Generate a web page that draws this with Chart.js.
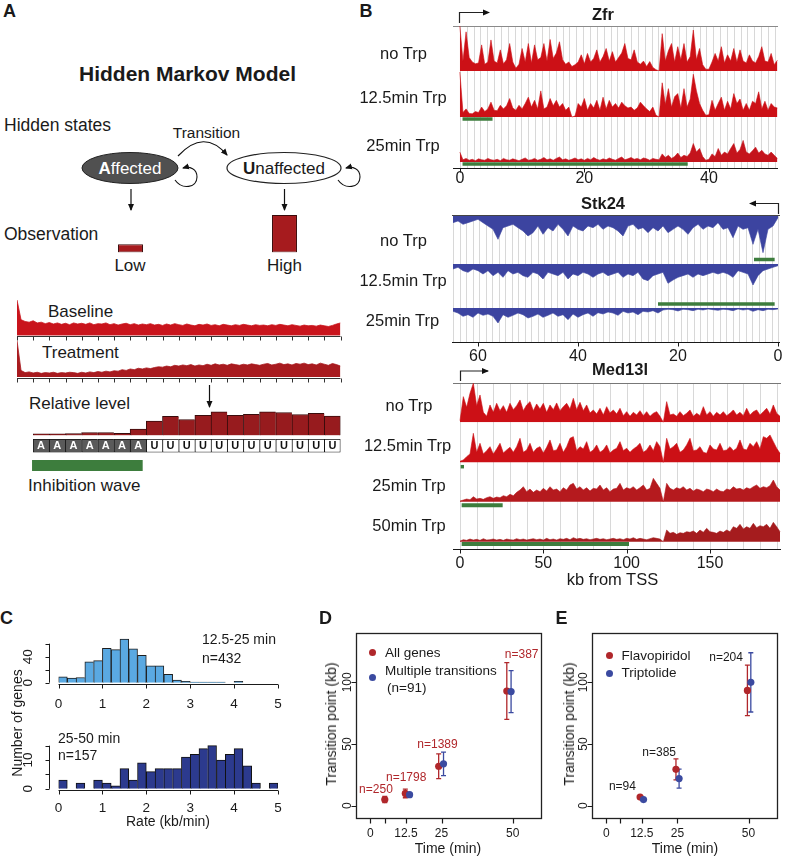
<!DOCTYPE html>
<html><head><meta charset="utf-8">
<script src="https://cdn.jsdelivr.net/npm/chart.js@4.4.1/dist/chart.umd.min.js"></script>
<style>
html,body{margin:0;padding:0;background:#fff;}
#root{position:relative;width:793px;height:857px;overflow:hidden;font-family:"Liberation Sans",Arial,Helvetica,sans-serif;color:#1a1a1a;}
.t{position:absolute;white-space:nowrap;line-height:1;}
canvas{position:absolute;}
.dot{position:absolute;width:7px;height:7px;border-radius:50%;}
</style></head><body><div id="root">
<svg width="793" height="857" style="position:absolute;left:0;top:0">
<defs><marker id="ah" markerWidth="7" markerHeight="7" refX="6" refY="3.5" orient="auto" markerUnits="userSpaceOnUse"><path d="M0,0.5 L7,3.5 L0,6.5 z" fill="#111"/></marker></defs>
<ellipse cx="130" cy="168" rx="48" ry="15.5" fill="#505050" stroke="#222" stroke-width="1"/>
<ellipse cx="284" cy="168" rx="57" ry="15.5" fill="#fff" stroke="#222" stroke-width="1.2"/>
<path d="M178,156 Q204,128 227,155" fill="none" stroke="#111" stroke-width="1.2" marker-end="url(#ah)"/>
<path d="M175,180 C182,190 197,188 197,177 C197,169 190,166 183,168" fill="none" stroke="#111" stroke-width="1.1" marker-end="url(#ah)"/>
<path d="M338,180 C345,190 360,188 360,177 C360,169 353,166 346,168" fill="none" stroke="#111" stroke-width="1.1" marker-end="url(#ah)"/>
<line x1="131" y1="189" x2="131" y2="210" stroke="#111" stroke-width="1.2" marker-end="url(#ah)"/>
<line x1="284.5" y1="189" x2="284.5" y2="210" stroke="#111" stroke-width="1.2" marker-end="url(#ah)"/>
<line x1="209.5" y1="385" x2="209.5" y2="407" stroke="#111" stroke-width="1.2" marker-end="url(#ah)"/>
<path d="M459.5,23 V12.5 H489" fill="none" stroke="#222" stroke-width="1.2" marker-end="url(#ah)"/>
<path d="M778.5,214 V203.5 H750" fill="none" stroke="#222" stroke-width="1.2" marker-end="url(#ah)"/>
<path d="M460.5,381 V371 H488" fill="none" stroke="#222" stroke-width="1.2" marker-end="url(#ah)"/>
</svg>
</div>
<script>
// ================= DATA =================
// Panel A (schematic)
const hmmStates = ['A','A','A','A','A','A','A','U','U','U','U','U','U','U','U','U','U','U','U'];
const relativeLevel = [0.07,0.07,0.08,0.12,0.12,0.09,0.26,0.58,0.77,0.64,0.81,0.95,0.81,0.85,0.95,0.92,0.84,0.89,0.78];
const observationLabels = ['Low','High'];
const observationLevel = [0.22, 1];
const inhibitionWave = [0.95, 7.75];
const schematicStep = 0.25;
const schematicTicks = [0,1,2,3,4,5,6,7,8,9,10,11,12,13,14,15,16,17,18,19,20];
const baselineSignal = [100,45,40,38,42,36,38,34,37,33,36,32,35,31,36,33,35,32,36,31,
 34,33,36,31,34,30,33,35,31,34,30,33,31,34,30,32,29,33,30,34,
 31,29,33,30,28,32,30,33,29,31,28,32,30,28,31,29,32,30,28,31,
 29,30,28,31,29,32,30,28,31,29,27,30,28,29,27,30,28,26,29,33,36];
const treatmentSignal = [100,18,12,14,11,13,10,12,11,13,10,12,11,13,12,10,13,11,14,12,
 15,13,16,14,17,16,20,18,22,20,24,22,25,23,26,28,27,30,28,32,
 30,33,31,34,30,33,31,35,32,36,33,35,32,36,34,32,35,33,36,34,
 32,35,37,33,35,38,34,36,33,37,35,38,34,36,33,38,35,32,37,34,30];

// Panel B (kb from TSS)
const zfrStep = 0.5;
const zfrNoTrp = [100,22,87,30,20,16,18,58,15,20,69,22,18,47,16,25,61,20,6,15,
 50,20,61,18,58,25,30,61,22,70,28,40,65,25,15,20,10,14,20,36,
 16,39,20,28,47,20,32,50,22,43,20,30,40,61,28,25,47,20,15,22,
 10,21,8,3,0,83,22,45,61,20,54,25,61,20,32,91,25,50,14,4,
 4,20,39,22,54,18,36,22,50,20,47,22,18,36,22,18,32,54,22,20,39,14,24];
const zfr12min = [100,10,18,8,7,12,10,22,12,18,33,15,14,26,18,25,41,20,15,26,
 18,30,44,22,37,18,58,18,22,41,25,37,22,30,15,22,0,2,30,22,
 41,15,30,20,37,15,44,18,37,22,30,20,33,25,20,22,15,20,33,25,
 18,12,22,4,0,76,28,63,22,45,52,20,63,22,40,95,58,30,15,4,
 5,37,15,30,44,15,35,18,52,30,40,15,30,15,35,30,56,18,35,15,30,22,20];
const zfr25min = [22,5,8,4,6,3,7,5,4,8,5,4,6,3,8,5,4,7,5,3,
 6,9,4,5,8,4,6,10,5,7,4,8,11,5,7,4,6,9,5,7,
 4,8,5,10,6,4,7,5,9,6,4,8,11,5,7,10,6,8,5,9,
 7,4,8,6,5,18,10,15,8,12,20,10,15,12,20,41,22,30,12,4,
 6,18,12,30,15,22,18,30,41,20,28,48,22,18,25,33,20,26,18,15,22,15,8];
const zfrWave12 = [0.43, 5.25];
const zfrWave25 = [0.43, 36.6];
const zfrTicks = [0, 20, 40];

const stkStep = 1;
const stkNoTrp = [5,30,40,110,40,85,35,40,30,65,35,40,20,35,30,40,25,35,55,40,
 30,40,50,30,45,35,50,35,40,25,30,60,45,35,30,40,25,35,30,45,
 40,30,60,40,25,45,35,55,30,50,60,45,35,25,30,35,70,40,30,20,10,15,20,25,15,20];
const stk12min = [5,10,15,20,35,63,30,25,20,40,30,25,30,25,30,35,30,40,30,35,
 40,48,58,25,30,35,50,45,25,35,30,40,25,30,35,25,30,40,30,25,
 35,30,45,25,35,30,25,45,30,25,40,35,25,30,20,40,25,35,20,30,20,15,25,20,10,15];
const stk25min = [3,5,4,8,5,10,4,6,3,8,5,4,7,5,3,6,4,8,5,4,
 9,5,4,6,15,8,12,10,20,12,15,10,22,15,12,18,14,25,15,20,
 28,18,35,20,25,15,22,28,18,25,30,20,15,22,28,20,45,25,18,22,15,28,20,25,15,10];
const stkWave12 = [0.67, 4.8];
const stkWave25 = [0.67, 24];
const stkTicks = [60, 40, 20, 0];

const medStep = 2;
const medNoTrp = [5,77,45,87,117,50,82,30,18,52,30,57,35,50,30,57,38,50,67,35,
 52,62,35,55,40,57,30,52,38,58,35,47,57,40,72,38,60,35,52,28,
 37,25,42,22,47,28,37,25,42,20,32,18,30,22,35,20,32,18,27,32,
 18,0,62,22,25,18,32,20,27,37,18,27,20,47,22,32,18,30,22,32,
 20,27,37,22,30,20,42,22,32,37,22,32,42,25,52,27,18];
const med12min = [3,7,17,25,87,30,57,25,35,47,25,40,57,28,37,45,30,47,72,30,
 37,57,30,42,47,28,45,67,35,37,57,30,47,72,77,35,47,40,62,30,
 37,52,30,37,52,28,37,42,62,35,42,30,40,47,57,30,37,52,35,62,
 47,0,72,40,47,57,30,37,52,72,35,37,47,30,27,52,40,37,57,35,
 37,47,35,42,67,40,37,57,47,62,40,77,72,82,62,42,27];
const med25min = [2,5,8,6,15,8,10,7,12,15,10,14,12,18,15,22,18,28,35,45,
 30,38,28,35,30,40,32,45,35,38,30,42,35,50,55,38,45,35,42,32,
 40,38,50,35,42,30,38,40,55,35,42,38,45,35,42,50,35,40,70,55,
 40,0,55,40,35,42,38,45,35,40,32,38,35,30,38,35,30,38,32,30,
 38,35,45,38,40,35,42,38,45,50,40,45,42,48,65,45,35];
const med50min = [2,6,4,8,5,7,4,9,5,6,8,5,7,4,8,6,5,9,6,8,
 5,7,9,6,8,5,10,6,8,5,9,7,10,6,12,8,10,7,9,6,
 8,10,7,9,6,8,10,7,9,6,10,8,12,7,10,8,6,9,12,10,
 8,0,35,25,28,22,27,25,30,28,32,25,35,28,40,30,28,25,32,28,
 35,30,45,40,52,38,45,40,55,42,48,45,52,40,58,45,30];
const medWave12 = [0.4, 2.4];
const medWave25 = [1, 25.6];
const medWave50 = [1, 101.4];
const medTicks = [0, 50, 100, 150];

// Panel C
const rateBinWidth = 0.2;
const rateTicks = [0,1,2,3,4,5];
const hist12to25 = [9,7,8,32,34,53,51,67,52,42,26,26,13,4,2,1,1,1,1,0,2,0,0,0,0];
const hist25to50 = [3,0,2,0,3,2,1,7,3,9,6,7,7,7,11,12,14,15,10,12,14,8,2,0,2];
const countTicksTop = [0,20,40,60];
const countTicksBottom = [0,5,10,15];

// Panel D
const timeTicks = [0,5,12.5,25,50];
const timeTickLabels = ['0','','12.5','25','50'];
const kbTicks = [0,50,100];
const allGenesX = [5.1,12.3,24.0,47.9];
const allGenesY = [5,10,32,93];
const allGenesErr = [2.5,3.5,10,23];
const multiX = [13.8,25.7,49.4];
const multiY = [9,34,92.5];
const multiErr = [1.5,9.5,17];
const allGenesN = ['n=250','n=1798','n=1389','n=387'];
const allGenesNX = [2.0,12.6,23.6,53.1];
const allGenesNY = [12.8,22.5,49.3,122.2];

// Panel E
const flavoX = [11.9,24.5,49.6];
const flavoY = [7,29.5,93.5];
const flavoErr = [1,8.5,20.5];
const tripX = [13.1,25.6,50.8];
const tripY = [5,22,100];
const tripErr = [1,7.7,24];
const drugN = ['n=94','n=385','n=204'];
const drugNX = [5.7,18.6,42.1];
const drugNY = [15.2,43,119.8];

// ================= HELPERS =================
const root = document.getElementById('root');
const FONT = '"Liberation Sans", Arial, Helvetica, sans-serif';
const RED = '#b0272b', BLUE = '#3b4aa0', GREEN = '#3d7d3d';
function px(v){ return Math.round(v) + 0.5; }

function T(s, x, y, o) {
  o = o || {};
  const d = document.createElement('div'); d.className = 't';
  d.innerHTML = s;
  d.style.fontSize = (o.size || 16) + 'px';
  if (o.bold) d.style.fontWeight = 'bold';
  if (o.color) d.style.color = o.color;
  d.style.left = x + 'px'; d.style.top = y + 'px';
  const ax = o.align === 'left' ? '0' : (o.align === 'right' ? '-100%' : '-50%');
  d.style.transform = 'translate(' + ax + ',-50%)' + (o.rot ? ' rotate(' + o.rot + 'deg)' : '');
  root.appendChild(d);
}
function dot(x, y, c) {
  const d = document.createElement('div'); d.className = 'dot';
  d.style.left = (x - 3.5) + 'px'; d.style.top = (y - 3.5) + 'px'; d.style.background = c;
  root.appendChild(d);
}

function mk(box, area, config, plugins) {
  const L = Math.floor(box.l), Tp = Math.floor(box.t), R = Math.ceil(box.r), B = Math.ceil(box.b);
  const c = document.createElement('canvas');
  c.width = R - L; c.height = B - Tp;
  c.style.left = L + 'px'; c.style.top = Tp + 'px';
  c.style.width = (R - L) + 'px'; c.style.height = (B - Tp) + 'px';
  root.appendChild(c);
  const o = config.options = config.options || {};
  o.responsive = false; o.maintainAspectRatio = false; o.animation = false; o.devicePixelRatio = 1;
  o.events = [];
  o.layout = {autoPadding: false, padding: {left: area.l - L, top: area.t - Tp, right: R - area.r, bottom: B - area.b}};
  o.plugins = Object.assign({legend: {display: false}, tooltip: {enabled: false}}, o.plugins || {});
  for (const k in (o.scales || {})) o.scales[k].display = false;
  config.plugins = plugins || [];
  return new Chart(c.getContext('2d'), config);
}

function axesPlugin(specs) {
  return { id: 'rAxes', afterDraw(chart) {
    const ctx = chart.ctx, a = chart.chartArea;
    specs.forEach(ax => {
      const sc = chart.scales[ax.scale];
      ctx.save();
      ctx.strokeStyle = ax.color || '#1a1a1a';
      ctx.fillStyle = ax.textColor || '#1a1a1a';
      ctx.lineWidth = ax.lw || 1;
      ctx.font = (ax.size || 12) + 'px ' + FONT;
      const tl = ax.tickLen == null ? 4 : ax.tickLen;
      const from = ax.from == null ? ax.ticks[0] : ax.from;
      const to = ax.to == null ? ax.ticks[ax.ticks.length - 1] : ax.to;
      ctx.beginPath();
      ctx.textAlign = 'center'; ctx.textBaseline = 'middle';
      if (ax.side === 'bottom') {
        const y = px(a.bottom + (ax.off || 0));
        if (!ax.noLine) { ctx.moveTo(sc.getPixelForValue(from), y); ctx.lineTo(sc.getPixelForValue(to), y); }
        ax.ticks.forEach(v => { const x = px(sc.getPixelForValue(v)); ctx.moveTo(x, y); ctx.lineTo(x, y + tl); });
        ctx.stroke();
        (ax.labels || []).forEach((s, i) => { if (s) ctx.fillText(s, sc.getPixelForValue(ax.ticks[i]), y + ax.labelOff); });
      } else {
        const x = px(a.left - (ax.off || 0));
        if (!ax.noLine) { ctx.moveTo(x, sc.getPixelForValue(from)); ctx.lineTo(x, sc.getPixelForValue(to)); }
        ax.ticks.forEach(v => { const y = px(sc.getPixelForValue(v)); ctx.moveTo(x, y); ctx.lineTo(x - tl, y); });
        ctx.stroke();
        (ax.labels || []).forEach((s, i) => {
          if (!s) return;
          const y = sc.getPixelForValue(ax.ticks[i]);
          ctx.save(); ctx.translate(x - ax.labelOff, y); ctx.rotate(-Math.PI / 2); ctx.fillText(s, 0, 0); ctx.restore();
        });
      }
      ctx.restore();
    });
  }};
}

const boxPlugin = { id: 'box', afterDraw(chart) {
  const ctx = chart.ctx, a = chart.chartArea;
  ctx.save(); ctx.strokeStyle = '#222'; ctx.lineWidth = 1.3;
  ctx.strokeRect(Math.round(a.left) + 0.5, Math.round(a.top) + 0.5, Math.round(a.right - a.left), Math.round(a.bottom - a.top));
  ctx.restore();
}};

function errPlugin(sets) {
  return { id: 'err', beforeDatasetsDraw(chart) {
    const ctx = chart.ctx, xs = chart.scales.x, ys = chart.scales.y;
    sets.forEach(s => {
      ctx.save(); ctx.strokeStyle = s.color; ctx.lineWidth = 1.3;
      s.x.forEach((xv, i) => {
        const x = xs.getPixelForValue(xv);
        const y1 = ys.getPixelForValue(s.y[i] - s.e[i]), y2 = ys.getPixelForValue(s.y[i] + s.e[i]);
        ctx.beginPath();
        ctx.moveTo(x, y1); ctx.lineTo(x, y2);
        ctx.moveTo(x - 2.5, y1); ctx.lineTo(x + 2.5, y1);
        ctx.moveTo(x - 2.5, y2); ctx.lineTo(x + 2.5, y2);
        ctx.stroke();
      });
      ctx.restore();
    });
  }};
}

function nPlugin(labels, xs_, ys_, color, size) {
  return { id: 'nlab', afterDatasetsDraw(chart) {
    const ctx = chart.ctx, xs = chart.scales.x, ys = chart.scales.y;
    ctx.save(); ctx.fillStyle = color; ctx.font = size + 'px ' + FONT;
    ctx.textAlign = 'center'; ctx.textBaseline = 'middle';
    labels.forEach((s, i) => ctx.fillText(s, xs.getPixelForValue(xs_[i]), ys.getPixelForValue(ys_[i])));
    ctx.restore();
  }};
}

function framePlugin(spec) {
  return { id: 'frame', afterDraw(chart) {
    const ctx = chart.ctx, a = chart.chartArea, xs = chart.scales.x;
    ctx.save();
    ctx.lineWidth = 1; ctx.strokeStyle = '#d8d8d8';
    ctx.beginPath();
    for (let v = spec.gridFrom; v <= spec.gridTo + 1e-6; v += spec.gridStep) {
      const x = px(xs.getPixelForValue(v));
      ctx.moveTo(x, a.top); ctx.lineTo(x, a.bottom);
    }
    ctx.stroke();
    ctx.strokeStyle = spec.topColor; ctx.lineWidth = spec.topWidth || 1;
    ctx.beginPath(); ctx.moveTo(a.left, px(a.top)); ctx.lineTo(a.right, px(a.top)); ctx.stroke();
    ctx.restore();
  }};
}

function geneFrame(g, top, bottom, ticks, labelOff, spec) {
  mk({l: g.l - 12, t: top - 6, r: g.r + 12, b: bottom + 24}, {l: g.l, t: top, r: g.r, b: bottom},
    {type: 'line', data: {datasets: []},
     options: {scales: {x: {type: 'linear', min: g.xmin, max: g.xmax, reverse: !!g.reverse}, y: {type: 'linear', min: 0, max: 1}}}},
    [framePlugin(spec), axesPlugin([{scale: 'x', side: 'bottom', off: 0, from: g.xmin, to: g.xmax, ticks: ticks,
      labels: ticks.map(String), tickLen: 4, labelOff: labelOff, size: 16}])]);
}

function track(g, t) {
  const ppu = g.ppu;
  let ymin, ymax;
  if (!t.down) { ymax = (t.base - t.top) / ppu; ymin = -(t.bottom - t.base) / ppu; }
  else { ymin = -(t.base - t.top) / ppu; ymax = (t.bottom - t.base) / ppu; }
  const datasets = [{type: 'line', data: t.data.map((v, i) => ({x: i * t.step, y: v})), fill: 'origin',
    backgroundColor: t.color, borderColor: t.color, borderWidth: 0.6, pointRadius: 0, tension: 0}];
  if (t.wave) {
    const wy = t.down ? (t.waveY - t.base) / ppu : (t.base - t.waveY) / ppu;
    datasets.push({type: 'line', data: t.wave.map(x => ({x: x, y: wy})), borderColor: GREEN,
      borderWidth: t.waveW || 3.5, pointRadius: 0, fill: false, borderCapStyle: 'butt'});
  }
  mk({l: g.l, t: t.top, r: g.r, b: t.bottom}, {l: g.l, t: t.top, r: g.r, b: t.bottom},
    {type: 'line', data: {datasets: datasets},
     options: {scales: {x: {type: 'linear', min: g.xmin, max: g.xmax, reverse: !!g.reverse},
                        y: {type: 'linear', min: ymin, max: ymax, reverse: !!t.down}}}});
}

// ================= PANEL A =================
T('A', 9.5, 11, {size: 18, bold: true});
T('Hidden Markov Model', 187.5, 72.5, {size: 21, bold: true});
T('Hidden states', 4, 125.5, {size: 17.5, align: 'left'});
T('Transition', 206.5, 133, {size: 15.5});
T('<b>A</b>ffected', 130, 168, {size: 17, color: '#fff'});
T('<b>U</b>naffected', 284, 168, {size: 17});
T('Observation', 4, 234.5, {size: 17.5, align: 'left'});
T('Low', 130, 265, {size: 17});
T('High', 284.5, 265, {size: 17});
T('Baseline', 48, 311, {size: 17, align: 'left'});
T('Treatment', 42, 351.5, {size: 17, align: 'left'});
T('Relative level', 29, 403, {size: 17, align: 'left'});
T('Inhibition wave', 28, 485, {size: 17, align: 'left'});

// observation bars
mk({l: 50, t: 212, r: 365, b: 255}, {l: 53.5, t: 215, r: 361.5, b: 252.5},
  {type: 'bar', data: {labels: observationLabels, datasets: [{data: observationLevel, backgroundColor: '#a61b1e',
    borderColor: '#3a0a0a', borderWidth: 1, borderSkipped: false, barPercentage: 0.162, categoryPercentage: 1}]},
   options: {scales: {x: {type: 'category'}, y: {min: 0, max: 1}}}});

// baseline / treatment tracks
const schemX = {type: 'linear', min: 0, max: 20};
const schemAxis = [{scale: 'x', side: 'bottom', off: 0.5, ticks: schematicTicks, tickLen: 4, color: '#333'}];
mk({l: 12, t: 296, r: 346, b: 344}, {l: 17, t: 300, r: 340.5, b: 335.8},
  {type: 'line', data: {datasets: [{data: baselineSignal.map((v, i) => ({x: i * schematicStep, y: v})), fill: 'origin',
    backgroundColor: '#c9141c', borderColor: '#c9141c', borderWidth: 0.8, pointRadius: 0, tension: 0}]},
   options: {scales: {x: Object.assign({}, schemX), y: {min: 0, max: 100}}}}, [axesPlugin(schemAxis)]);
mk({l: 12, t: 338, r: 346, b: 386}, {l: 17, t: 340.5, r: 340.5, b: 377},
  {type: 'line', data: {datasets: [{data: treatmentSignal.map((v, i) => ({x: i * schematicStep, y: v})), fill: 'origin',
    backgroundColor: '#a81b1f', borderColor: '#a81b1f', borderWidth: 0.8, pointRadius: 0, tension: 0}]},
   options: {scales: {x: Object.assign({}, schemX), y: {min: 0, max: 100}}}}, [axesPlugin(schemAxis)]);

// relative level bars
const lastIdx = relativeLevel.length - 1;
mk({l: 30, t: 408, r: 344, b: 437}, {l: 33, t: 410.5, r: 340.5, b: 435.5},
  {type: 'bar', data: {labels: hmmStates.map((s, i) => String(i)), datasets: [{data: relativeLevel,
    backgroundColor: '#971b1e', borderColor: '#3a0c0c', borderSkipped: false,
    borderWidth: c => ({top: 1, left: 1, bottom: 0, right: c.dataIndex === lastIdx ? 1 : 0}),
    barPercentage: 1, categoryPercentage: 1}]},
   options: {scales: {x: {type: 'category'}, y: {min: 0, max: 1}}}});

// state cells
const letterPlugin = {id: 'letters', afterDatasetsDraw(chart) {
  const ctx = chart.ctx, meta = chart.getDatasetMeta(0);
  ctx.save(); ctx.font = 'bold 11px ' + FONT; ctx.textAlign = 'center'; ctx.textBaseline = 'middle';
  meta.data.forEach((el, i) => {
    const p = el.getProps(['x', 'y', 'base'], true);
    ctx.fillStyle = hmmStates[i] === 'A' ? '#fff' : '#111';
    ctx.fillText(hmmStates[i], p.x, (p.y + p.base) / 2 + 0.5);
  });
  ctx.restore();
}};
mk({l: 30, t: 436, r: 344, b: 455}, {l: 33, t: 439, r: 340.5, b: 452.5},
  {type: 'bar', data: {labels: hmmStates.map((s, i) => String(i)), datasets: [{data: hmmStates.map(() => 1),
    backgroundColor: hmmStates.map(s => s === 'A' ? '#5a5a5a' : '#ffffff'), borderColor: '#111', borderSkipped: false,
    borderWidth: c => ({top: 1, left: 1, bottom: 1, right: c.dataIndex === lastIdx ? 1 : 0}),
    barPercentage: 1, categoryPercentage: 1}]},
   options: {scales: {x: {type: 'category'}, y: {min: 0, max: 1}}}}, [letterPlugin]);

// inhibition wave
mk({l: 12, t: 458, r: 346, b: 474}, {l: 17, t: 460, r: 340.5, b: 471},
  {type: 'bar', data: {labels: ['wave'], datasets: [{data: [inhibitionWave], backgroundColor: GREEN,
    barPercentage: 1, categoryPercentage: 1, borderWidth: 0}]},
   options: {indexAxis: 'y', scales: {x: {type: 'linear', min: 0, max: 20}, y: {type: 'category'}}}});

// ================= PANEL B =================
T('B', 366, 11, {size: 18, bold: true});
// Zfr
const gZfr = {l: 453, r: 778, xmin: -1.1, xmax: 51.1, ppu: 0.45};
geneFrame(gZfr, 26, 168, zfrTicks, 10, {gridFrom: 0, gridTo: 51, gridStep: 1.1, topColor: '#8a8a8a'});
track(gZfr, {top: 26, bottom: 71, base: 71, data: zfrNoTrp, step: zfrStep, color: '#cc1016'});
track(gZfr, {top: 71, bottom: 122, base: 117, data: zfr12min, step: zfrStep, color: '#cc1016', wave: zfrWave12, waveY: 119});
track(gZfr, {top: 117, bottom: 167, base: 162, data: zfr25min, step: zfrStep, color: '#c4141c', wave: zfrWave25, waveY: 164});
T('Zfr', 603, 13.5, {size: 16.5, bold: true});
T('no Trp', 403.5, 53, {size: 16.5});
T('12.5min Trp', 403, 97, {size: 16.5});
T('25min Trp', 403, 145, {size: 16.5});

// Stk24
const gStk = {l: 452, r: 780, xmin: -0.4, xmax: 65.2, reverse: true, ppu: 1 / 3};
geneFrame(gStk, 215, 342, stkTicks, 14, {gridFrom: 0, gridTo: 65, gridStep: 1.3, topColor: '#444', topWidth: 1.2});
track(gStk, {top: 216, bottom: 256, base: 216, down: true, data: stkNoTrp, step: stkStep, color: '#3c44a0'});
track(gStk, {top: 256, bottom: 302, base: 264, down: true, data: stk12min, step: stkStep, color: '#3c44a0', wave: stkWave12, waveY: 259.5});
track(gStk, {top: 301, bottom: 341, base: 308, down: true, data: stk25min, step: stkStep, color: '#3c44a0', wave: stkWave25, waveY: 304});
T('Stk24', 603, 203, {size: 16.5, bold: true});
T('no Trp', 403.5, 240, {size: 16.5});
T('12.5min Trp', 403, 280, {size: 16.5});
T('25min Trp', 402.5, 320, {size: 16.5});

// Med13l
const gMed = {l: 453, r: 781, xmin: -4.2, xmax: 192.6, ppu: 1 / 3};
geneFrame(gMed, 383, 549, medTicks, 14, {gridFrom: 0, gridTo: 190, gridStep: 10, topColor: '#777'});
track(gMed, {top: 383, bottom: 422.5, base: 422.3, data: medNoTrp, step: medStep, color: '#cc1016'});
track(gMed, {top: 422, bottom: 470, base: 462.3, data: med12min, step: medStep, color: '#cc1016', wave: medWave12, waveY: 466.7});
track(gMed, {top: 462, bottom: 510, base: 501.7, data: med25min, step: medStep, color: '#b51a1e', wave: medWave25, waveY: 505.3, waveW: 4});
track(gMed, {top: 502, bottom: 548, base: 541.7, data: med50min, step: medStep, color: '#a51c1e', wave: medWave50, waveY: 544, waveW: 4});
T('Med13l', 620, 369, {size: 16.5, bold: true});
T('no Trp', 409, 405, {size: 16.5});
T('12.5min Trp', 407.5, 445, {size: 16.5});
T('25min Trp', 409, 485, {size: 16.5});
T('50min Trp', 409, 525, {size: 16.5});
T('kb from TSS', 612.5, 578.5, {size: 16.5});

// ================= PANEL C =================
T('C', 6.5, 618, {size: 18, bold: true});
function histBorder(arr) {
  return c => ({top: 1, left: 1, bottom: 0, right: (c.dataIndex === arr.length - 1 || arr[c.dataIndex + 1] < arr[c.dataIndex]) ? 1 : 0});
}
mk({l: 0, t: 628, r: 292, b: 716}, {l: 58.5, t: 637.2, r: 278, b: 682.7},
  {type: 'bar', data: {datasets: [{data: hist12to25.map((v, i) => ({x: (i + 0.5) * rateBinWidth, y: v})),
    backgroundColor: '#5aa9e2', borderColor: '#1e1e1e', borderWidth: histBorder(hist12to25), borderSkipped: false,
    barPercentage: 1, categoryPercentage: 1}]},
   options: {scales: {x: {type: 'linear', min: 0, max: 5, offset: false}, y: {min: 0, max: 70}}}},
  [axesPlugin([
    {scale: 'y', side: 'left', off: 9.2, ticks: countTicksTop, labels: ['0', '', '40', ''], tickLen: 4, labelOff: 21, size: 13.5},
    {scale: 'x', side: 'bottom', off: 1, ticks: rateTicks, labels: rateTicks.map(String), tickLen: 4, labelOff: 20, size: 13.5}])]);
mk({l: 0, t: 738, r: 292, b: 822}, {l: 58.5, t: 742.8, r: 278, b: 788.8},
  {type: 'bar', data: {datasets: [{data: hist25to50.map((v, i) => ({x: (i + 0.5) * rateBinWidth, y: v})),
    backgroundColor: '#2c3a8e', borderColor: '#111', borderWidth: histBorder(hist25to50), borderSkipped: false,
    barPercentage: 1, categoryPercentage: 1}]},
   options: {scales: {x: {type: 'linear', min: 0, max: 5, offset: false}, y: {min: 0, max: 16}}}},
  [axesPlugin([
    {scale: 'y', side: 'left', off: 9.2, ticks: countTicksBottom, labels: ['0', '', '10', ''], tickLen: 4, labelOff: 21, size: 13.5},
    {scale: 'x', side: 'bottom', off: 1, ticks: rateTicks, labels: rateTicks.map(String), tickLen: 4, labelOff: 18, size: 13.5}])]);
T('12.5-25 min', 202, 639, {size: 14, align: 'left'});
T('n=432', 202, 658, {size: 14, align: 'left'});
T('25-50 min', 58, 737.5, {size: 14, align: 'left'});
T('n=157', 58, 755, {size: 14, align: 'left'});
T('Number of genes', 16.5, 723, {size: 14, rot: -90});
T('Rate (kb/min)', 168, 821, {size: 14});

// ================= PANEL D / E =================
function scatterPanel(box, area, sets, nLab) {
  mk(box, area,
    {type: 'scatter', data: {datasets: sets.map((s, k) => ({data: s.x.map((x, i) => ({x: x, y: s.y[i]})),
      backgroundColor: s.color, borderWidth: 0, pointRadius: 3.6, order: sets.length - k}))},
     options: {scales: {x: {type: 'linear', min: -5, max: 60}, y: {type: 'linear', min: -10, max: 140}}}},
    [boxPlugin, errPlugin(sets),
     axesPlugin([
      {scale: 'x', side: 'bottom', off: 0, noLine: true, ticks: timeTicks, labels: timeTickLabels, tickLen: 5, labelOff: 15, size: 12, lw: 1.2},
      {scale: 'y', side: 'left', off: 0, noLine: true, ticks: kbTicks, labels: kbTicks.map(String), tickLen: 5, labelOff: 9, size: 12, lw: 1.2}]),
     nPlugin(nLab.labels, nLab.x, nLab.y, nLab.color, 12)]);
}
T('D', 325.5, 618, {size: 18, bold: true});
scatterPanel({l: 300, t: 626, r: 548, b: 845}, {l: 356, t: 633, r: 541.3, b: 818.1},
  [{x: allGenesX, y: allGenesY, e: allGenesErr, color: RED}, {x: multiX, y: multiY, e: multiErr, color: BLUE}],
  {labels: allGenesN, x: allGenesNX, y: allGenesNY, color: RED});
dot(372.7, 652.7, RED); dot(372.7, 677.7, BLUE);
T('All genes', 385, 653, {size: 13.5, align: 'left'});
T('Multiple transitions', 385, 670.5, {size: 13.5, align: 'left'});
T('(n=91)', 387, 688, {size: 13.5, align: 'left'});
T('Transition point (kb)', 331, 724, {size: 14, rot: -90});
T('Time (min)', 448, 848, {size: 14});

T('E', 561.5, 618, {size: 18, bold: true});
scatterPanel({l: 540, t: 626, r: 785, b: 845}, {l: 592, t: 633, r: 777, b: 818.1},
  [{x: flavoX, y: flavoY, e: flavoErr, color: RED}, {x: tripX, y: tripY, e: tripErr, color: BLUE}],
  {labels: drugN, x: drugNX, y: drugNY, color: '#1a1a1a'});
dot(609, 655.7, RED); dot(609, 673.3, BLUE);
T('Flavopiridol', 621.5, 656, {size: 13.5, align: 'left'});
T('Triptolide', 621.5, 673, {size: 13.5, align: 'left'});
T('Transition point (kb)', 568.5, 724, {size: 14, rot: -90});
T('Time (min)', 685, 848, {size: 14});
</script></body></html>
